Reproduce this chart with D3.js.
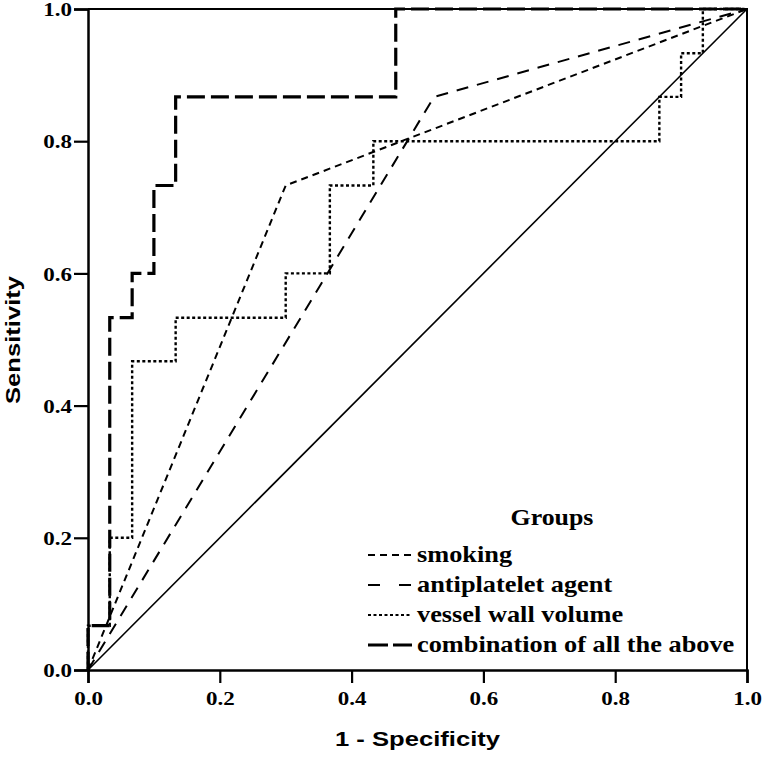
<!DOCTYPE html>
<html>
<head>
<meta charset="utf-8">
<script src="https://cdn.jsdelivr.net/npm/d3@7"></script>
<style>
  body { margin: 0; background: #fff; }
  svg { display: block; }
</style>
</head>
<body>
<div id="chart"></div>
<script>
var svgWidth = 765;
var svgHeight = 758;

var margin = { top: 9, right: 18, bottom: 88, left: 88 };
var chartWidth = svgWidth - margin.left - margin.right;
var chartHeight = svgHeight - margin.top - margin.bottom;

// data (1 - specificity, sensitivity)
var groupNames = ["smoking", "antiplatelet agent", "vessel wall volume", "combination of all the above"];
var smokingPts = [[0, 0], [0.3, 0.733], [1, 1]];
var antiplateletPts = [[0, 0], [0.525, 0.867], [1, 1]];
var vesselPts = [[0, 0], [0, 0.067], [0.033, 0.067], [0.033, 0.2], [0.067, 0.2], [0.067, 0.467],
  [0.133, 0.467], [0.133, 0.533], [0.3, 0.533], [0.3, 0.6], [0.367, 0.6], [0.367, 0.733],
  [0.433, 0.733], [0.433, 0.8], [0.867, 0.8], [0.867, 0.867], [0.9, 0.867], [0.9, 0.933],
  [0.933, 0.933], [0.933, 1], [1, 1]];
var combinationPts = [[0, 0], [0, 0.067], [0.033, 0.067], [0.033, 0.533], [0.067, 0.533],
  [0.067, 0.6], [0.1, 0.6], [0.1, 0.733], [0.133, 0.733], [0.133, 0.867], [0.467, 0.867],
  [0.467, 1], [1, 1]];
var referencePts = [[0, 0], [1, 1]];
var tickValues = [0, 0.2, 0.4, 0.6, 0.8, 1.0];

var svg = d3.select("#chart")
  .append("svg")
  .attr("width", svgWidth)
  .attr("height", svgHeight);

var chartGroup = svg.append("g")
  .attr("transform", `translate(${margin.left},${margin.top})`);

var xScale = d3.scaleLinear().domain([0, 1]).range([0, chartWidth]);
var yScale = d3.scaleLinear().domain([0, 1]).range([chartHeight, 0]);

var serif = "'Liberation Serif', 'Times New Roman', serif";
var sans = "'Liberation Sans', Arial, sans-serif";

// the original's lettering is a bit wider than the fonts, so widen it
function widen(sel, k) {
  sel.each(function() {
    var w = this.getComputedTextLength();
    d3.select(this).attr("textLength", w * k).attr("lengthAdjust", "spacingAndGlyphs");
  });
}

// top and right frame
chartGroup.append("path")
  .attr("d", `M0,${yScale(1)}H${xScale(1)}V${yScale(0)}`)
  .attr("fill", "none")
  .attr("stroke", "#000")
  .attr("stroke-width", 2);

var bottomAxis = d3.axisBottom(xScale).tickValues(tickValues).tickFormat(d3.format(".1f")).tickSizeOuter(0).tickSize(13);
var leftAxis = d3.axisLeft(yScale).tickValues(tickValues).tickFormat(d3.format(".1f")).tickSizeOuter(0).tickSize(14);

var xAxis = chartGroup.append("g")
  .attr("transform", `translate(0, ${chartHeight})`)
  .call(bottomAxis);
var yAxis = chartGroup.append("g").call(leftAxis);

[xAxis, yAxis].forEach(function(ax) {
  ax.select(".domain").attr("stroke-width", 2.5);
  ax.selectAll(".tick line").attr("stroke-width", 2.2);
  ax.selectAll(".tick text")
    .style("font-family", serif)
    .style("font-weight", "bold")
    .style("font-size", "19.5px")
    .attr("fill", "#000");
});
xAxis.selectAll(".tick text").attr("dy", null).attr("y", 35);
yAxis.selectAll(".tick text").attr("x", -16).attr("dy", "0.34em");
widen(xAxis.selectAll(".tick text"), 1.18);
widen(yAxis.selectAll(".tick text"), 1.18);

// curves
var line = d3.line().x(d => xScale(d[0])).y(d => yScale(d[1]));

var series = [
  { pts: referencePts, dash: null, width: 1.6 },
  { pts: antiplateletPts, dash: "12,9", width: 2 },
  { pts: smokingPts, dash: "7,5", width: 2 },
  { pts: vesselPts, dash: "3,2.5", width: 2.4 },
  { pts: combinationPts, dash: "18,6", width: 3.2 }
];

series.forEach(function(s) {
  chartGroup.append("path")
    .attr("d", line(s.pts))
    .attr("fill", "none")
    .attr("stroke", "#000")
    .attr("stroke-width", s.width)
    .attr("stroke-dasharray", s.dash);
});

// legend
var legendStyles = [
  { dash: "7,5", width: 2 },
  { dash: "12,19", width: 2 },
  { dash: "3,2.5", width: 2 },
  { dash: "20,5", width: 3.2 }
];

var legend = svg.append("g");
var legendTitle = legend.append("text")
  .attr("x", 552)
  .attr("y", 525)
  .attr("text-anchor", "middle")
  .style("font-family", serif)
  .style("font-weight", "bold")
  .style("font-size", "23.5px")
  .text("Groups");
widen(legendTitle, 1.1);

var rows = legend.selectAll("g.row")
  .data(groupNames)
  .enter()
  .append("g")
  .attr("transform", (d, i) => `translate(368, ${562 + i * 30})`);

rows.append("line")
  .attr("x1", 0).attr("x2", 44)
  .attr("y1", -7).attr("y2", -7)
  .attr("stroke", "#000")
  .attr("stroke-width", (d, i) => legendStyles[i].width)
  .attr("stroke-dasharray", (d, i) => legendStyles[i].dash);

var rowText = rows.append("text")
  .attr("x", 49)
  .attr("y", 0)
  .style("font-family", serif)
  .style("font-weight", "bold")
  .style("font-size", "23.5px")
  .text(d => d);
widen(rowText, 1.12);

// axis titles
var xTitle = svg.append("text")
  .attr("x", margin.left + chartWidth / 2)
  .attr("y", 746)
  .attr("text-anchor", "middle")
  .style("font-family", sans)
  .style("font-weight", "bold")
  .style("font-size", "20px")
  .text("1 - Specificity");
widen(xTitle, 1.28);

var yTitle = svg.append("text")
  .attr("transform", "rotate(-90)")
  .attr("x", -340)
  .attr("y", 20)
  .attr("text-anchor", "middle")
  .style("font-family", sans)
  .style("font-weight", "bold")
  .style("font-size", "20px")
  .text("Sensitivity");
widen(yTitle, 1.28);
</script>
</body>
</html>
